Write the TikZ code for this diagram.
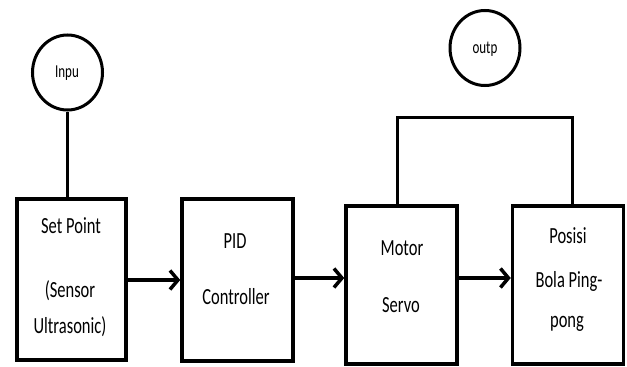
\documentclass[tikz,border=0pt]{standalone}
\usepackage{fontspec}
\setmainfont{Carlito}
\usetikzlibrary{arrows.meta,shapes.geometric}

% text in the reference is drawn a little taller than wide
\newcommand{\tall}[1]{\scalebox{1}[1.4]{#1}}

\tikzset{
    block/.style={draw, line width=3.5pt, inner sep=0pt},
    bubble/.style={draw, ellipse, line width=3pt, minimum width=70pt, minimum height=75pt, inner sep=0pt},
    word/.style={anchor=base, inner sep=0pt, font=\fontsize{16.5}{18}\selectfont},
    small word/.style={anchor=base, inner sep=0pt, font=\fontsize{13}{15}\selectfont},
    flow/.style={line width=4pt, -{Straight Barb[length=8pt,width=19pt,line width=3.5pt]}},
    wire/.style={line width=3pt}
}

\begin{document}
\begin{tikzpicture}[x=1pt, y=-1pt]

    % Fix the page size to the reference
    \useasboundingbox (0,0) rectangle (627,367);
    \clip (0,0) rectangle (627,367);

    % Define the four blocks
    \node[block, minimum width=109pt, minimum height=161pt] (setp) at (71.5,279.5) {};
    \node[block, minimum width=111pt, minimum height=162pt] (pid) at (237.5,280) {};
    \node[block, minimum width=111pt, minimum height=158pt] (servo) at (401.5,285) {};
    \node[block, minimum width=111pt, minimum height=158pt] (ball) at (568,285) {};

    % Input and output bubbles
    \node[bubble] (inp) at (67.5,72.5) {};
    \node[bubble] (outp) at (485,48) {};
    \node[small word] (inptxt) at (67,77) {\tall{Inpu}};
    \node[small word] (outptxt) at (485,53) {\tall{outp}};

    % Texts in the blocks
    \node[word] (sp1) at (71,233) {\tall{Set Point}};
    \node[word] (sp2) at (70,297) {\tall{(Sensor}};
    \node[word] (sp3) at (70,333) {\tall{Ultrasonic)}};
    \node[word] (pid1) at (235,248) {\tall{PID}};
    \node[word] (pid2) at (236,304) {\tall{Controller}};
    \node[word] (sv1) at (402,255) {\tall{Motor}};
    \node[word] (sv2) at (401,312) {\tall{Servo}};
    \node[word] (bl1) at (568,243) {\tall{Posisi}};
    \node[word] (bl2) at (569,287) {\tall{Bola Ping-}};
    \node[word] (bl3) at (567,327) {\tall{pong}};

    % Input line down to the set point
    \draw[wire] (inp.south) -- (inp.south |- setp.north);

    % Arrows between the blocks
    \draw[flow] (setp.east |- 0,280) -- (pid.west |- 0,280);
    \draw[flow] (pid.east |- 0,278) -- (servo.west |- 0,278);
    \draw[flow] (servo.east |- 0,278) -- (ball.west |- 0,278);

    % Link over the servo and the ball
    \coordinate (fbl) at (397,117);
    \coordinate (fbr) at (572,117);
    \draw[wire] (fbl |- servo.north) -- (fbl) -- (fbr) -- (fbr |- ball.north);

\end{tikzpicture}
\end{document}
